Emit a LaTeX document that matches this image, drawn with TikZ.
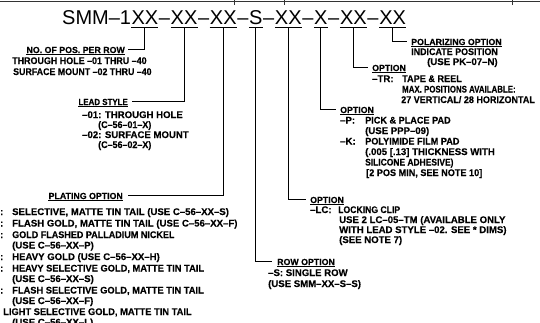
\documentclass[tikz,border=0pt]{standalone}
\usepackage{graphicx}
\usepackage{fontspec}
\setmainfont{Liberation Sans}
\newfontfamily\cadfont{Liberation Sans}[BoldFeatures={FakeBold=0.3}]
\newcommand\hs[2]{\scalebox{#1}[1]{#2}}
\usetikzlibrary{calc}
\begin{document}
\begin{tikzpicture}[x=1pt,y=-1pt,
  ttl/.style={font=\fontsize{20}{24}\selectfont, inner sep=0pt, anchor=base west},
  dsh/.style={ttl, inner xsep=0.3pt},
  txt/.style={font=\cadfont\fontsize{9.6}{11}\selectfont\bfseries, inner sep=0pt, anchor=base west},
  hd/.style={font=\cadfont\fontsize{8.8}{11}\selectfont\bfseries, inner sep=0pt, text height=6.4pt, text depth=0pt},
  conn/.style={line width=1.1pt},
  tul/.style={line width=0.9pt},
  hul/.style={line width=0.8pt}]
\useasboundingbox (0,0) rectangle (540,322);
\fill[white] (0,0) rectangle (540,322);
\clip (0,0) rectangle (540,322);

% top border with ticks
\draw[line width=1.3pt, black!80] (0,1.6) -- (540,1.6);
\draw[line width=0.8pt, black!80] (234,0) -- (234,5);
\draw[line width=0.8pt, black!80] (284,0) -- (284,5);
\draw[line width=0.8pt, black!80] (512,0) -- (512,5);

% title chain
\node[ttl] (t0) at (62,24) {SMM–1};
\node[ttl] (g1) at (t0.base east) {XX};
\node[dsh] (d1) at (g1.base east) {–};
\node[ttl] (g2) at (d1.base east) {XX};
\node[dsh] (d2) at (g2.base east) {–};
\node[ttl] (g3) at (d2.base east) {XX};
\node[dsh] (d3) at (g3.base east) {–};
\node[ttl] (g4) at (d3.base east) {S};
\node[dsh] (d4) at (g4.base east) {–};
\node[ttl] (g5) at (d4.base east) {XX};
\node[dsh] (d5) at (g5.base east) {–};
\node[ttl] (g6) at (d5.base east) {X};
\node[dsh] (d6) at (g6.base east) {–};
\node[ttl] (g7) at (d6.base east) {XX};
\node[dsh] (d7) at (g7.base east) {–};
\node[ttl] (g8) at (d7.base east) {XX};

\foreach \g in {1,...,8}{
  \draw[tul] ($(g\g.base west)+(0,3)$) -- ($(g\g.base east)+(0,3)$);
  \coordinate (u\g) at ($(g\g.base)+(0,3)$);
}

% NO. OF POS. PER ROW
\node[hd, anchor=base east] (hPos) at (125,53) {NO. OF POS. PER ROW};
\node[txt] (pos1) at (12,64) {\hs{0.93}{THROUGH HOLE –01 THRU –40}};
\node[txt] (pos2) at (13,75) {\hs{0.92}{SURFACE MOUNT –02 THRU –40}};

% LEAD STYLE
\node[hd, anchor=base east] (hLead) at (128,105) {\hs{0.9}{LEAD STYLE}};
\node[txt] (ld1) at (82,118) {–01: THROUGH HOLE};
\node[txt] (ld2) at (98,128) {\hs{0.93}{(C–56–01–X)}};
\node[txt] (ld3) at (82,138) {–02: SURFACE MOUNT};
\node[txt] (ld4) at (98,148) {\hs{0.93}{(C–56–02–X)}};

% PLATING OPTION
\node[hd, anchor=base east] (hPlat) at (123,199) {PLATING OPTION};
\node[txt, anchor=base east] (pc1) at (3.5,215) {:};
\node[txt] (pt1) at (12,215) {SELECTIVE, MATTE TIN TAIL (USE C–56–XX–S)};
\node[txt, anchor=base east] (pc2) at (3.5,226.5) {:};
\node[txt] (pt2) at (12,226.5) {FLASH GOLD, MATTE TIN TAIL (USE C–56–XX–F)};
\node[txt, anchor=base east] (pc3) at (3.5,238) {:};
\node[txt] (pt3) at (12,238) {\hs{0.94}{GOLD FLASHED PALLADIUM NICKEL}};
\node[txt] (pt4) at (12,248.5) {(USE C–56–XX–P)};
\node[txt, anchor=base east] (pc5) at (3.5,260) {:};
\node[txt] (pt5) at (12,260) {HEAVY GOLD (USE C–56–XX–H)};
\node[txt, anchor=base east] (pc6) at (3.5,271.5) {:};
\node[txt] (pt6) at (12,271.5) {\hs{0.97}{HEAVY SELECTIVE GOLD, MATTE TIN TAIL}};
\node[txt] (pt7) at (12,282) {(USE C–56–XX–S)};
\node[txt, anchor=base east] (pc8) at (3.5,293.5) {:};
\node[txt] (pt8) at (12,293.5) {\hs{0.97}{FLASH SELECTIVE GOLD, MATTE TIN TAIL}};
\node[txt] (pt9) at (12,304) {(USE C–56–XX–F)};
\node[txt] (pt10) at (3,315) {\hs{0.97}{LIGHT SELECTIVE GOLD, MATTE TIN TAIL}};
\node[txt] (pt11) at (12,325.5) {(USE C–56–XX–L)};

% ROW OPTION
\node[hd, anchor=base west] (hRow) at (277,265) {ROW OPTION};
\node[txt] (rw1) at (268,276) {–S: SINGLE ROW};
\node[txt] (rw2) at (268,287) {(USE SMM–XX–S–S)};

% LC option
\node[hd, anchor=base west] (hLC) at (310,203) {OPTION};
\node[txt] (lc0) at (310,213) {–LC:};
\node[txt] (lc1) at (338,213) {\hs{0.9}{LOCKING CLIP}};
\node[txt] (lc2) at (339,223) {USE 2 LC–05–TM (AVAILABLE ONLY};
\node[txt] (lc3) at (339,233) {WITH LEAD STYLE –02. SEE * DIMS)};
\node[txt] (lc4) at (339,243) {(SEE NOTE 7)};

% P / K option
\node[hd, anchor=base west] (hPK) at (340,113) {OPTION};
\node[txt] (pk0) at (340,123.5) {–P:};
\node[txt] (pk1) at (365,123.5) {\hs{0.95}{PICK \& PLACE PAD}};
\node[txt] (pk2) at (365,134) {(USE PPP–09)};
\node[txt] (pk3) at (340,144.5) {–K:};
\node[txt] (pk4) at (365,144.5) {\hs{0.95}{POLYIMIDE FILM PAD}};
\node[txt] (pk5) at (365,155) {(.005 [.13] THICKNESS WITH};
\node[txt] (pk6) at (365,165.5) {\hs{0.88}{SILICONE ADHESIVE)}};
\node[txt] (pk7) at (366,176) {\hs{0.95}{[2 POS MIN, SEE NOTE 10]}};

% TR option
\node[hd, anchor=base west] (hTR) at (372,71) {OPTION};
\node[txt] (tr0) at (372,82) {–TR:};
\node[txt] (tr1) at (402,82) {\hs{0.95}{TAPE \& REEL}};
\node[txt] (tr2) at (402,92.5) {\hs{0.82}{MAX. POSITIONS AVAILABLE:}};
\node[txt] (tr3) at (401,103) {\hs{0.94}{27 VERTICAL/ 28 HORIZONTAL}};

% Polarizing option
\node[hd, anchor=base west] (hPol) at (411,45) {POLARIZING OPTION};
\node[txt] (pl1) at (411,55) {\hs{0.93}{INDICATE POSITION}};
\node[txt] (pl2) at (427,65) {(USE PK–07–N)};

% heading underlines
\foreach \h in {hPos,hLead,hPlat,hRow,hLC,hPK,hTR,hPol}{
  \draw[hul] ([yshift=-1.8pt]\h.base west) -- ([yshift=-1.8pt]\h.base east);
}

% connectors
\draw[conn] (u1) |- ([xshift=3pt]hPos.east);
\draw[conn] (u2) |- ([xshift=4pt]hLead.east);
\draw[conn] (u3) |- ([xshift=5pt]hPlat.east);
\draw[conn] (u4) |- ([xshift=-5pt]hRow.west);
\draw[conn] (u5) |- ([xshift=-4pt]hLC.west);
\draw[conn] (u6) |- ([xshift=-4pt]hPK.west);
\draw[conn] (u7) |- ([xshift=-4pt]hTR.west);
\draw[conn] (u8) |- ([xshift=-4pt]hPol.west);
\end{tikzpicture}
\end{document}
